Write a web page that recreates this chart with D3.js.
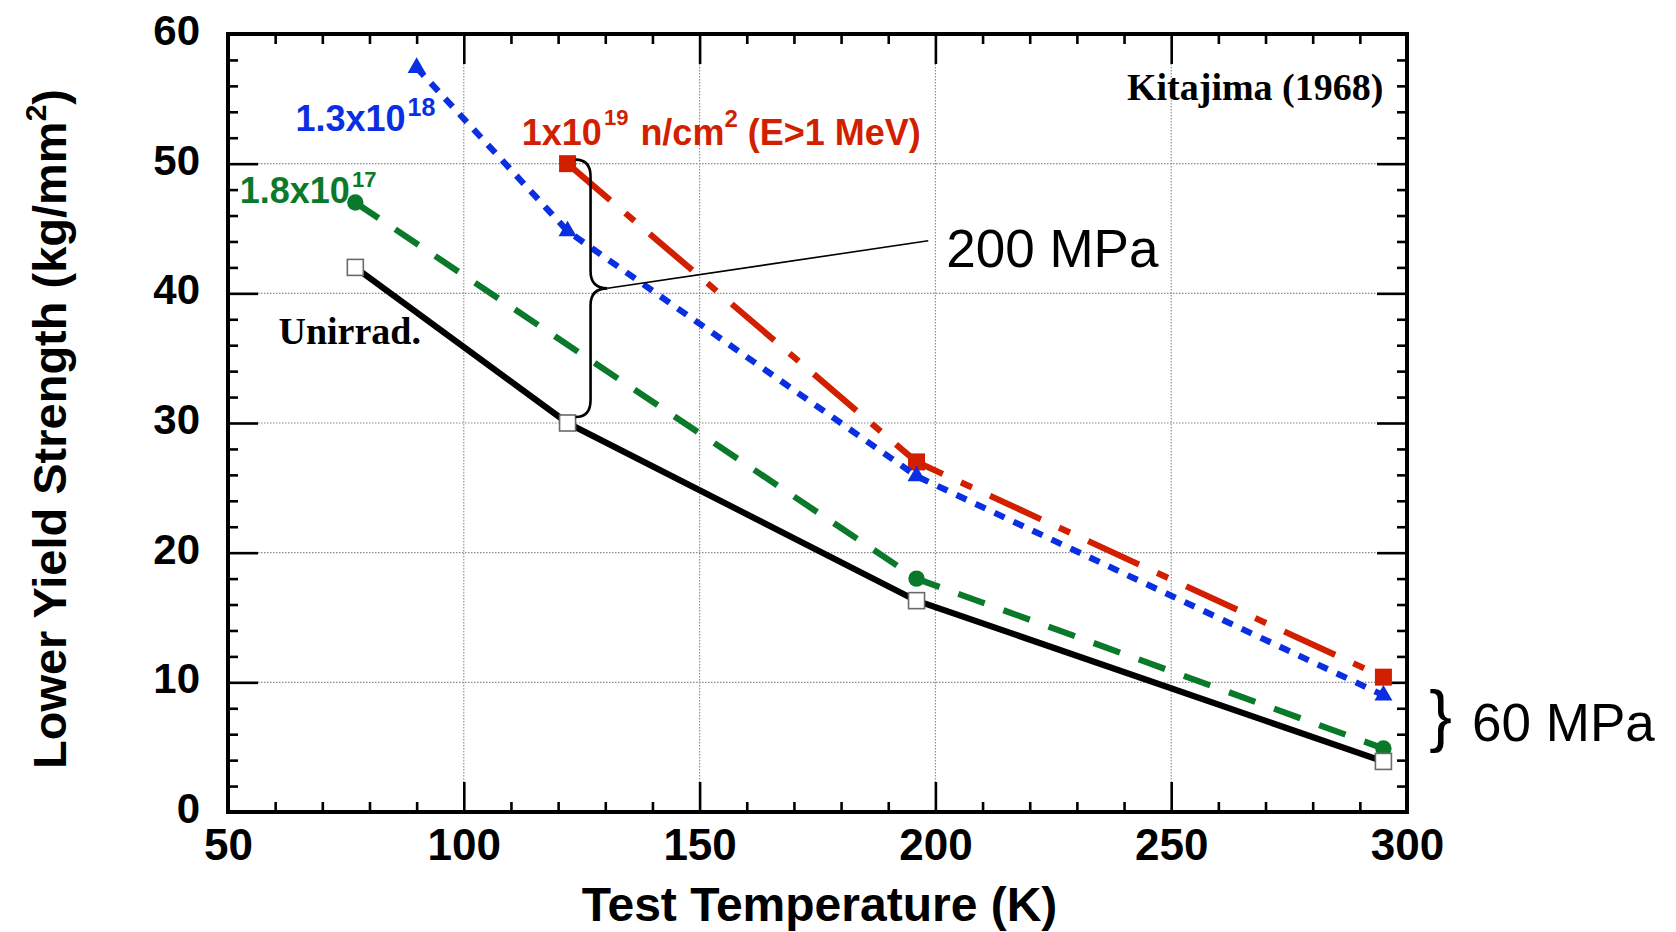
<!DOCTYPE html>
<html>
<head>
<meta charset="utf-8">
<script src="https://cdn.jsdelivr.net/npm/d3@7"></script>
<style>
  html, body { margin: 0; padding: 0; background: #fff; }
  svg { display: block; }
  text { font-family: "Liberation Sans", Arial, Helvetica, sans-serif; }
  text.serif { font-family: "Liberation Serif", "Times New Roman", serif; }
</style>
</head>
<body>
<svg id="chart" width="1676" height="932"></svg>
<script>
// Lower yield strength vs. test temperature, by neutron fluence
const unirradTemp = [77, 122, 196, 295];
const unirradStrength = [42, 30, 16.3, 3.9];

const fluence17Temp = [77, 196, 295];
const fluence17Strength = [47, 18, 4.9];

const fluence18Temp = [90, 122, 196, 295];
const fluence18Strength = [57.4, 44.8, 25.9, 9.0];

const fluence19Temp = [122, 196, 295];
const fluence19Strength = [50, 27, 10.4];

const xTickValues = [50, 100, 150, 200, 250, 300];
const yTickValues = [0, 10, 20, 30, 40, 50, 60];
const xGridValues = [100, 150, 200, 250];
const yGridValues = [10, 20, 30, 40, 50];

(function () {
const svg = d3.select("#chart");
const pLeft = 228, pRight = 1407, pTop = 34, pBottom = 812;

const x = d3.scaleLinear().domain([50, 300]).range([pLeft, pRight]);
const y = d3.scaleLinear().domain([0, 60]).range([pBottom, pTop]);

// grid
const grid = svg.append("g").attr("stroke", "#8a8a8a").attr("stroke-width", 1.1)
  .attr("stroke-dasharray", "1.5,1.5");
grid.selectAll("line.v").data(xGridValues).join("line").attr("class", "v")
  .attr("x1", d => x(d)).attr("x2", d => x(d)).attr("y1", pTop).attr("y2", pBottom);
grid.selectAll("line.h").data(yGridValues).join("line").attr("class", "h")
  .attr("x1", pLeft).attr("x2", pRight).attr("y1", d => y(d)).attr("y2", d => y(d));

// axes with inward ticks on all four sides
function styleAxis(g) {
  g.select(".domain").remove();
  g.selectAll(".tick line").attr("stroke", "#000").attr("stroke-width", 2.6);
}
const majorLen = 30, minorLen = 10;
const xMinor = d3.range(50, 301, 10).filter(v => v % 50 !== 0);
const yMinor = d3.range(0, 61, 2).filter(v => v % 10 !== 0);

svg.append("g").attr("transform", `translate(0,${pBottom})`)
  .call(d3.axisBottom(x).tickValues(xTickValues).tickSizeInner(-majorLen).tickSizeOuter(0).tickPadding(14))
  .call(styleAxis)
  .call(g => g.selectAll("text").attr("fill", "#000").attr("font-size", 44)
    .attr("font-weight", "bold").attr("dy", null).attr("y", 48));
svg.append("g").attr("transform", `translate(0,${pBottom})`)
  .call(d3.axisBottom(x).tickValues(xMinor).tickSizeInner(-minorLen).tickSizeOuter(0).tickFormat(""))
  .call(styleAxis);
svg.append("g").attr("transform", `translate(0,${pTop})`)
  .call(d3.axisTop(x).tickValues(xTickValues).tickSizeInner(-majorLen).tickSizeOuter(0).tickFormat(""))
  .call(styleAxis);
svg.append("g").attr("transform", `translate(0,${pTop})`)
  .call(d3.axisTop(x).tickValues(xMinor).tickSizeInner(-minorLen).tickSizeOuter(0).tickFormat(""))
  .call(styleAxis);

svg.append("g").attr("transform", `translate(${pLeft},0)`)
  .call(d3.axisLeft(y).tickValues(yTickValues).tickSizeInner(-majorLen).tickSizeOuter(0).tickPadding(28))
  .call(styleAxis)
  .call(g => g.selectAll("text").attr("fill", "#000").attr("font-size", 42)
    .attr("font-weight", "bold").attr("dy", "0.32em").attr("y", -3));
svg.append("g").attr("transform", `translate(${pLeft},0)`)
  .call(d3.axisLeft(y).tickValues(yMinor).tickSizeInner(-minorLen).tickSizeOuter(0).tickFormat(""))
  .call(styleAxis);
svg.append("g").attr("transform", `translate(${pRight},0)`)
  .call(d3.axisRight(y).tickValues(yTickValues).tickSizeInner(-majorLen).tickSizeOuter(0).tickFormat(""))
  .call(styleAxis);
svg.append("g").attr("transform", `translate(${pRight},0)`)
  .call(d3.axisRight(y).tickValues(yMinor).tickSizeInner(-minorLen).tickSizeOuter(0).tickFormat(""))
  .call(styleAxis);

// frame
svg.append("rect").attr("x", pLeft).attr("y", pTop).attr("width", pRight - pLeft).attr("height", pBottom - pTop)
  .attr("fill", "none").attr("stroke", "#000").attr("stroke-width", 4);

// axis titles
svg.append("text").attr("x", (pLeft + pRight) / 2 + 2).attr("y", 921)
  .attr("text-anchor", "middle").attr("font-size", 48).attr("font-weight", "bold")
  .text("Test Temperature (K)");
const yTitle = svg.append("text")
  .attr("transform", `translate(66,${(pTop + pBottom) / 2 + 6}) rotate(-90)`)
  .attr("text-anchor", "middle").attr("font-size", 47).attr("font-weight", "bold");
yTitle.append("tspan").text("Lower Yield Strength (kg/mm");
yTitle.append("tspan").attr("font-size", 30).attr("dy", -20).text("2");
yTitle.append("tspan").attr("dy", 20).text(")");

// series
const line = d3.line().x(d => x(d[0])).y(d => y(d[1]));
const zip = (a, b) => a.map((v, i) => [v, b[i]]);
const triSide = 18, triH = triSide * Math.sqrt(3) / 2;
const triPath = `M0,${-triH * 2 / 3} L${triSide / 2},${triH / 3} L${-triSide / 2},${triH / 3} Z`;

const series = [
  { temp: fluence19Temp, val: fluence19Strength, color: "#d21f00", dash: "56,20,12,20", marker: "square" },
  { temp: fluence18Temp, val: fluence18Strength, color: "#0a2fe2", dash: "11,10", marker: "triangle" },
  { temp: fluence17Temp, val: fluence17Strength, color: "#0a7a2a", dash: "28,20", marker: "circle" },
  { temp: unirradTemp, val: unirradStrength, color: "#000", dash: null, marker: "open" }
];

series.forEach(s => {
  const pts = zip(s.temp, s.val);
  svg.append("path").datum(pts).attr("d", line)
    .attr("fill", "none").attr("stroke", s.color).attr("stroke-width", 6.2)
    .attr("stroke-dasharray", s.dash).attr("stroke-linecap", "butt");
  const g = svg.append("g");
  if (s.marker === "square") {
    g.selectAll("rect").data(pts).join("rect")
      .attr("x", d => x(d[0]) - 8.5).attr("y", d => y(d[1]) - 8.5).attr("width", 17).attr("height", 17)
      .attr("fill", s.color);
  } else if (s.marker === "triangle") {
    g.selectAll("path").data(pts).join("path")
      .attr("d", triPath)
      .attr("transform", d => `translate(${x(d[0])},${y(d[1])})`).attr("fill", s.color);
  } else if (s.marker === "circle") {
    g.selectAll("circle").data(pts).join("circle")
      .attr("cx", d => x(d[0])).attr("cy", d => y(d[1])).attr("r", 8.2).attr("fill", s.color);
  } else {
    g.selectAll("rect").data(pts).join("rect")
      .attr("x", d => x(d[0]) - 8).attr("y", d => y(d[1]) - 8).attr("width", 16).attr("height", 16)
      .attr("fill", "#fff").attr("stroke", "#6a6a6a").attr("stroke-width", 1.6);
  }
});

// series labels with superscripts
function supLabel(xv, yv, color, parts) {
  const t = svg.append("text").attr("x", x(xv)).attr("y", y(yv))
    .attr("fill", color).attr("font-weight", "bold").attr("font-size", 36);
  let raised = 0;
  parts.forEach(p => {
    const ts = t.append("tspan").text(p.text);
    if (p.sup) {
      ts.attr("font-size", p.size).attr("dy", -p.sup);
      raised = p.sup;
    } else if (raised) {
      ts.attr("dy", raised);
      raised = 0;
    }
    if (p.dx) ts.attr("dx", p.dx);
  });
}
supLabel(64.3, 52.5, "#0a2fe2", [{ text: "1.3x10" }, { text: "18", sup: 15, size: 25, dx: 2 }]);
supLabel(52.5, 47.0, "#0a7a2a", [{ text: "1.8x10" }, { text: "17", sup: 16, size: 22, dx: 2 }]);
supLabel(112.3, 51.45, "#d21f00", [
  { text: "1x10" }, { text: "19", sup: 20, size: 22, dx: 2 },
  { text: " n/cm", dx: 2 }, { text: "2", sup: 18, size: 24 },
  { text: " (E>1 MeV)" }
]);

svg.append("text").attr("class", "serif").attr("x", x(60.7)).attr("y", y(36.1))
  .attr("font-weight", "bold").attr("font-size", 38).text("Unirrad.");
svg.append("text").attr("class", "serif").attr("x", x(295)).attr("y", y(54.9)).attr("text-anchor", "end")
  .attr("font-weight", "bold").attr("font-size", 38).text("Kitajima (1968)");

// 200 MPa brace spanning the 122 K points
const bx = x(122);
const yT = y(50) - 4, yB = y(30) - 6, yM = (y(50) + y(30)) / 2 - 5;
const x0 = bx + 8, xv = bx + 23, xt = bx + 40, r = 17;
svg.append("path")
  .attr("d", `M${x0},${yT} Q${xv},${yT} ${xv},${yT + r} L${xv},${yM - r} Q${xv},${yM} ${xt},${yM}` +
             ` Q${xv},${yM} ${xv},${yM + r} L${xv},${yB - r} Q${xv},${yB} ${x0},${yB}`)
  .attr("fill", "none").attr("stroke", "#000").attr("stroke-width", 2.6);
const label200x = x(202.3), label200y = y(42.05);
svg.append("line").attr("x1", xt).attr("y1", yM).attr("x2", label200x - 18).attr("y2", label200y - 26)
  .attr("stroke", "#000").attr("stroke-width", 1.6);
svg.append("text").attr("x", label200x).attr("y", label200y).attr("font-size", 53).text("200 MPa");

// 60 MPa brace at room temperature
svg.append("text").attr("x", x(304.7)).attr("y", y(5.66)).attr("font-size", 68).text("}");
svg.append("text").attr("x", x(313.8)).attr("y", y(5.5)).attr("font-size", 53).text("60 MPa");
})();
</script>
</body>
</html>
